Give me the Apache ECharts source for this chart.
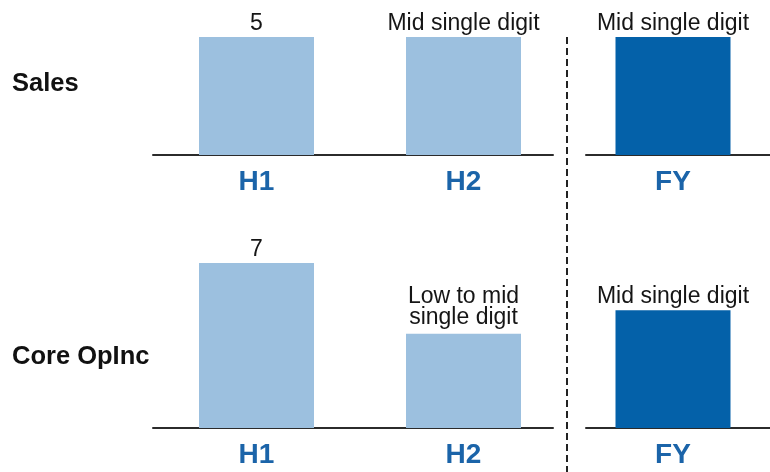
<!DOCTYPE html>
<html>
<head>
<meta charset="utf-8">
<script src="https://cdn.jsdelivr.net/npm/echarts@6/dist/echarts.min.js"></script>
<style>
  html, body { margin: 0; padding: 0; background: #ffffff; }
  #chart { width: 770px; height: 472px; }
</style>
</head>
<body>
<div id="chart"></div>
<script>
// Half-year and full-year growth outlook, two metrics
const rowNames = ['Sales', 'Core OpInc'];
const halfCategories = ['H1', 'H2'];
const fullCategories = ['FY'];

const salesHalfValues = [5, 5];
const salesHalfLabels = ['5', 'Mid single digit'];
const salesFullValues = [5];
const salesFullLabels = ['Mid single digit'];

const opIncHalfValues = [7, 4];
const opIncHalfLabels = ['7', 'Low to mid\nsingle digit'];
const opIncFullValues = [5];
const opIncFullLabels = ['Mid single digit'];

const FONT = '"Liberation Sans", Arial, Helvetica, sans-serif';
const LIGHT = '#9cc0df';
const DARK = '#0461a9';
const AXIS_BLUE = '#1b64a9';
const LINE = '#2b2b2b';

// Row layout: top of plot area and its height (same units-per-pixel for both rows)
const rows = [
  { top: 37, height: 118, max: 5 },
  { top: 263, height: 165, max: 7 }
];

const grids = [];
const xAxes = [];
const yAxes = [];
const series = [];

function addGrid(g, cats, showLine, showLabels, yMax) {
  const idx = grids.length;
  grids.push(Object.assign({ containLabel: false }, g));
  xAxes.push({
    type: 'category',
    gridIndex: idx,
    data: cats,
    boundaryGap: true,
    axisLine: { show: showLine, lineStyle: { color: LINE, width: 2 } },
    axisTick: { show: false },
    splitLine: { show: false },
    axisLabel: {
      show: showLabels,
      margin: 13,
      fontFamily: FONT,
      fontSize: 28,
      fontWeight: 'bold',
      color: AXIS_BLUE
    }
  });
  yAxes.push({
    type: 'value',
    gridIndex: idx,
    min: 0,
    max: yMax,
    show: false
  });
  return idx;
}

function addBars(idx, values, labels, color) {
  series.push({
    type: 'bar',
    xAxisIndex: idx,
    yAxisIndex: idx,
    // two-line labels sit a little higher above their bar
    data: values.map((v, i) => ({
      value: v,
      label: { distance: labels[i].indexOf('\n') >= 0 ? 6 : 3 }
    })),
    barWidth: 115,
    itemStyle: { color: color },
    silent: true,
    label: {
      show: true,
      position: 'top',
      distance: 3,
      fontFamily: FONT,
      fontSize: 23,
      lineHeight: 21,
      color: '#151515',
      align: 'center',
      formatter: p => labels[p.dataIndex]
    }
  });
}

const rowData = [
  { half: salesHalfValues, halfLab: salesHalfLabels, full: salesFullValues, fullLab: salesFullLabels },
  { half: opIncHalfValues, halfLab: opIncHalfLabels, full: opIncFullValues, fullLab: opIncFullLabels }
];

rows.forEach((r, i) => {
  const d = rowData[i];
  // half-year bars
  const gHalf = addGrid({ left: 153, width: 414, top: r.top, height: r.height }, halfCategories, false, true, r.max);
  addBars(gHalf, d.half, d.halfLab, LIGHT);
  // baseline under the half-year bars
  addGrid({ left: 153, width: 400, top: r.top, height: r.height }, halfCategories, true, false, r.max);
  // full-year bar
  const gFull = addGrid({ left: 576, width: 194, top: r.top, height: r.height }, fullCategories, false, true, r.max);
  addBars(gFull, d.full, d.fullLab, DARK);
  // baseline under the full-year bar
  addGrid({ left: 586, right: 0, top: r.top, height: r.height }, fullCategories, true, false, r.max);
});

const chart = echarts.init(document.getElementById('chart'), null, { renderer: 'canvas' });
chart.setOption({
  animation: false,
  backgroundColor: '#ffffff',
  grid: grids,
  xAxis: xAxes,
  yAxis: yAxes,
  series: series,
  title: rowNames.map((name, i) => ({
    text: name,
    left: 12,
    top: i === 0 ? 71 : 344,
    padding: 0,
    textStyle: { fontFamily: FONT, fontSize: 25.5, fontWeight: 'bold', color: '#111111' }
  })),
  graphic: [{
    // separator between half-year and full-year panels
    type: 'line',
    silent: true,
    shape: { x1: 567, y1: 37, x2: 567, y2: 472 },
    style: { stroke: '#222222', lineWidth: 2, lineDash: [7, 4] }
  }]
});
</script>
</body>
</html>
